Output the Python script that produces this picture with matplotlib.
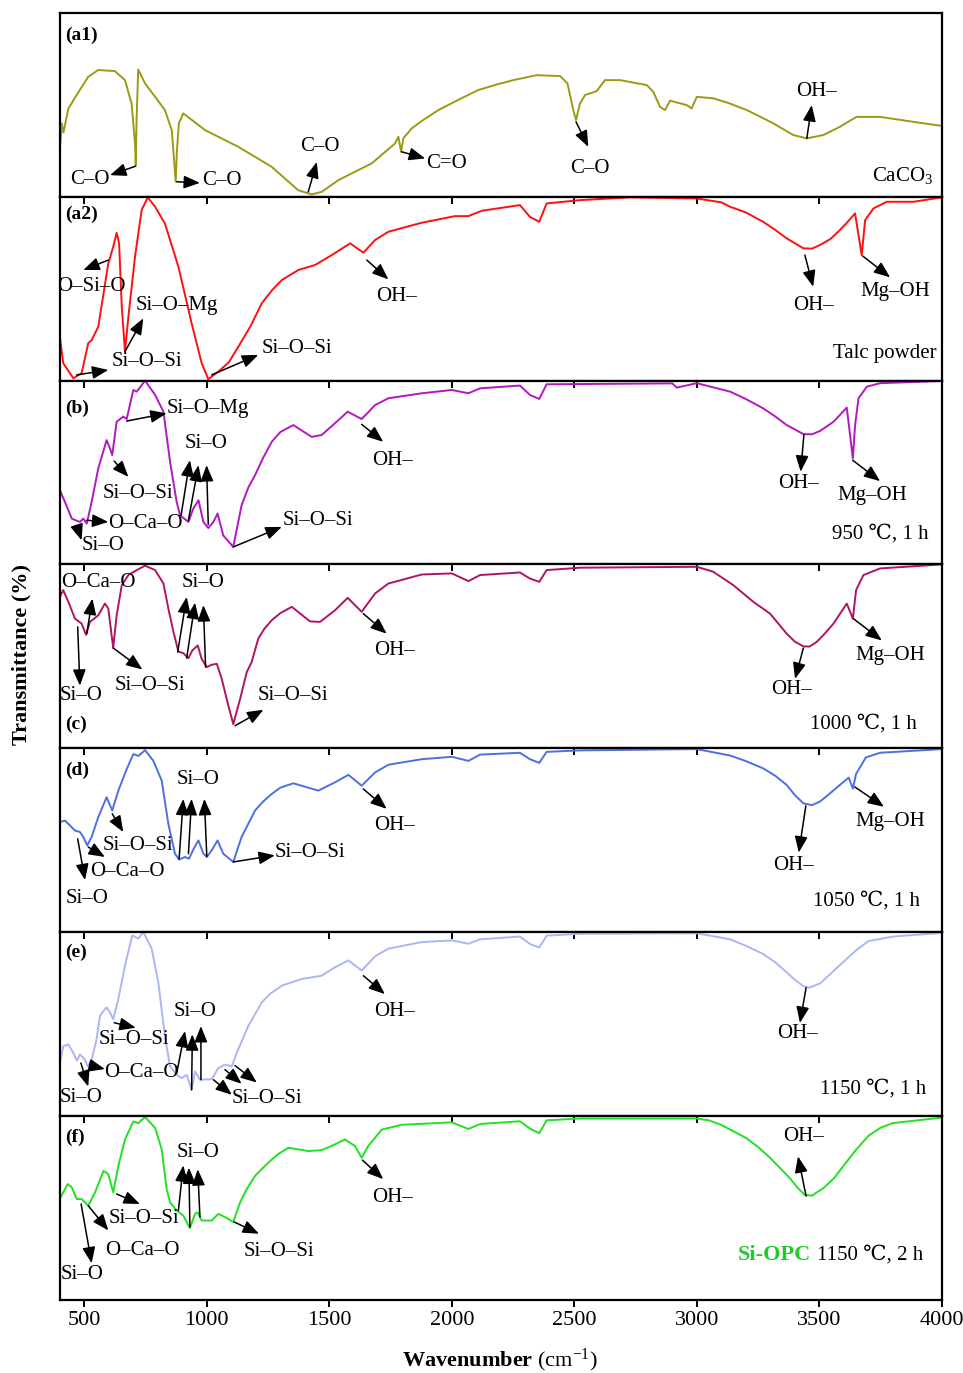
import matplotlib
matplotlib.use("Agg")
import matplotlib.pyplot as plt

plt.rcParams["font.family"] = ["Liberation Serif", "DejaVu Serif", "DejaVu Sans"]
plt.rcParams["mathtext.fontset"] = "custom"
plt.rcParams["mathtext.rm"] = "Liberation Serif"
plt.rcParams["mathtext.bf"] = "Liberation Serif:bold"
plt.rcParams["mathtext.it"] = "Liberation Serif:italic"

# ── Spectra (wavenumber cm-1, transmittance in panel units 0-100) ─────────────
wn_a1 = [400, 408, 415, 435, 462, 516, 557, 625, 666, 693, 707, 710, 713, 720, 748, 789, 829, 857, 873, 878,
         886, 904, 993, 1129, 1265, 1373, 1428, 1469, 1537, 1673, 1768, 1782, 1793, 1802, 1836, 1880, 1945, 2030,
         2108, 2180, 2251, 2347, 2442, 2472, 2496, 2507, 2523, 2544, 2591, 2625, 2687, 2796, 2822, 2850, 2870,
         2891, 2959, 2979, 3000, 3067, 3130, 3204, 3260, 3312, 3394, 3449, 3516, 3584, 3620, 3652, 3748, 3884, 4000]
tr_a1 = [25.4, 40, 35, 48, 54, 65.3, 69, 68.4, 63.5, 50.8, 29, 17.3, 40, 69.3, 61.7, 54.4, 47.2, 36.3, 8.2, 25,
         40, 45.4, 36.3, 27.2, 16.3, 3.6, 1.3, 2.7, 9.1, 18.2, 29, 32.7, 24.5, 31.8, 37.2, 41.5, 47.2, 53,
         58.1, 61, 63.5, 66.2, 65.7, 61.7, 47.2, 41.8, 50.8, 55.4, 57.5, 63.5, 63.5, 60.8, 57.2, 49, 47.2,
         52.3, 49.9, 48.1, 54.4, 53.6, 51, 47.2, 43.5, 40, 33.6, 31.8, 33.6, 38.1, 41, 43.5, 43.5, 40.8, 38.6]

wn_a2 = [400, 414, 455, 489, 516, 530, 557, 598, 618, 632, 642, 653, 666, 680, 707, 734, 759, 789, 829, 884,
         938, 979, 1006, 1047, 1090, 1129, 1180, 1224, 1265, 1306, 1374, 1442, 1510, 1585, 1639, 1687, 1741, 1877,
         2013, 2068, 2122, 2278, 2319, 2357, 2387, 2523, 2727, 3000, 3100, 3136, 3200, 3271, 3320, 3367, 3435,
         3470, 3503, 3545, 3584, 3620, 3646, 3673, 3687, 3721, 3775, 3884, 4000]
tr_a2 = [23.9, 9.5, 1.3, 4, 20.3, 22, 29.3, 63.8, 72.8, 80.4, 74.7, 40.2, 15.8, 34.8, 67.4, 92.8, 99.7, 94.6,
         85.5, 62, 31.2, 9.5, 0.8, 4.9, 10, 18.5, 30, 42, 49, 54.7, 60.2, 62.9, 68.3, 74.7, 69.6, 76.5, 81,
         85.9, 89.5, 89.5, 92.4, 95.5, 89.1, 86.4, 96.4, 98.2, 99.7, 99.1, 97, 94.6, 91.5, 86.4, 82, 77.4, 72,
         71.8, 73.8, 77, 81.9, 87, 91, 68.3, 87.3, 93.7, 97.3, 97.3, 99.7]

wn_b = [400, 421, 449, 482, 496, 510, 530, 557, 591, 605, 614, 632, 659, 673, 700, 714, 748, 789, 823, 850,
        877, 891, 925, 945, 966, 986, 1006, 1027, 1044, 1067, 1108, 1142, 1170, 1197, 1230, 1265, 1300, 1353,
        1428, 1469, 1523, 1575, 1632, 1687, 1741, 1877, 2000, 2068, 2115, 2278, 2319, 2357, 2387, 2900, 2918,
        3000, 3136, 3200, 3271, 3320, 3367, 3435, 3470, 3503, 3558, 3612, 3637, 3646, 3660, 3694, 3748, 4000]
tr_b = [40.4, 34, 24.9, 23.1, 24.9, 22.2, 34, 52.2, 67.6, 63.1, 59.5, 77.6, 80.4, 79.1, 94.9, 94, 100, 92.2,
        83.1, 55.8, 34, 26.7, 23.1, 30.4, 34.9, 23.1, 19.8, 23.1, 27.7, 15.8, 9.5, 32.2, 42, 48.6, 58, 66.7,
        72, 75.8, 69.4, 70.4, 76.8, 83.1, 79.1, 86.7, 90.4, 93.1, 94.9, 93.1, 95.8, 97.3, 92.2, 90, 98, 98.5,
        96.2, 98.6, 94, 90, 84.9, 80.5, 75.8, 70.9, 70.8, 72.6, 77.6, 85.3, 57.7, 75.8, 90.4, 96.7, 98.6, 99.8]

wn_c = [400, 414, 435, 462, 489, 507, 523, 557, 584, 598, 618, 632, 653, 680, 714, 748, 789, 823, 843, 864,
        884, 904, 925, 941, 963, 979, 1000, 1020, 1041, 1061, 1088, 1108, 1136, 1163, 1183, 1210, 1235, 1265,
        1300, 1347, 1421, 1462, 1523, 1575, 1632, 1687, 1741, 1877, 2000, 2068, 2115, 2278, 2319, 2357, 2387,
        2523, 3000, 3067, 3149, 3231, 3299, 3367, 3400, 3435, 3460, 3489, 3520, 3558, 3612, 3637, 3650, 3680,
        3748, 4000]
tr_c = [82.3, 86, 79.6, 70.5, 67.8, 61.7, 68.7, 72.3, 78.7, 76, 54.5, 72.3, 88.7, 94.2, 96.9, 99.3, 96.9,
        89.6, 76, 63.2, 52.6, 51.7, 49, 53.2, 55.9, 48.6, 44.1, 45.4, 45.9, 37.7, 23.1, 13.1, 26.8, 41.4, 46.8,
        59.6, 65, 69.6, 73.5, 76.9, 69, 68.7, 75, 81.8, 74.2, 84.2, 89.6, 94.5, 95.1, 90.9, 94.2, 95.6, 92.3,
        90.5, 96.9, 98.2, 98.7, 96, 88.7, 79.6, 73.2, 62.3, 58, 55.4, 55.3, 57.8, 62, 67.8, 78.7, 70.5, 86,
        94.2, 97.8, 100]

wn_d = [400, 421, 462, 482, 496, 512, 530, 557, 591, 614, 639, 673, 700, 721, 748, 782, 816, 843, 870, 887,
        911, 927, 949, 966, 986, 1000, 1020, 1044, 1067, 1108, 1142, 1197, 1230, 1265, 1300, 1353, 1455, 1523,
        1578, 1632, 1687, 1741, 1877, 2000, 2068, 2115, 2278, 2319, 2357, 2387, 2523, 3000, 3136, 3200, 3271,
        3320, 3367, 3400, 3435, 3470, 3503, 3540, 3584, 3620, 3637, 3650, 3690, 3748, 4000]
tr_d = [59.8, 60.6, 55.2, 54.4, 51.7, 47.1, 51.7, 62.5, 73.3, 66.1, 76.9, 88.6, 96.8, 95.8, 98.9, 93.1, 82.3,
        58.9, 42.6, 39.4, 40.8, 39.9, 45.9, 49.8, 42.6, 40.8, 44.4, 49.8, 42.6, 38.1, 51.7, 66.1, 71, 75.1,
        78.5, 80.9, 76.9, 81.4, 85.5, 79.6, 86.8, 91, 94, 95.3, 93.1, 96.5, 97.5, 94, 92, 98, 98.8, 99.5, 96,
        93, 89, 85, 80, 74.5, 70, 69, 71, 75, 80, 84, 78, 86, 95, 97.5, 99.5]

wn_e = [400, 414, 435, 455, 470, 482, 500, 514, 530, 550, 564, 578, 591, 605, 618, 639, 666, 696, 720, 741,
        775, 802, 829, 850, 877, 897, 918, 938, 952, 972, 1020, 1047, 1074, 1102, 1122, 1169, 1224, 1260, 1306,
        1387, 1469, 1523, 1578, 1632, 1687, 1741, 1877, 2000, 2068, 2115, 2278, 2319, 2357, 2387, 2523, 3000,
        3136, 3200, 3271, 3320, 3367, 3400, 3435, 3460, 3503, 3540, 3584, 3650, 3700, 3800, 4000]
tr_e = [28.7, 37.8, 38.8, 34.2, 30, 33.3, 31, 26.9, 30.6, 41.5, 54.3, 57, 58.9, 56.1, 52.5, 63.5, 81.7, 98.2,
        96.4, 100, 90.9, 72.6, 43.3, 26.9, 22.3, 20.5, 22.3, 14.1, 24.1, 19.6, 19.9, 25.9, 27.8, 26.9, 34.2,
        48.8, 61.6, 66.5, 70.8, 74.4, 76.2, 80.8, 84.5, 79, 86.8, 90.9, 94.5, 95.4, 93.6, 96, 97.5, 93.5, 91.5,
        98, 99, 99.3, 96, 92.5, 88, 83.5, 78, 74, 70.5, 69.7, 72, 76.5, 82, 90, 95, 97.5, 99.5]

wn_f = [400, 432, 449, 469, 489, 516, 544, 578, 598, 618, 639, 666, 700, 720, 748, 789, 816, 836, 850, 877,
        904, 931, 952, 963, 979, 1020, 1047, 1074, 1108, 1136, 1163, 1197, 1251, 1290, 1333, 1414, 1469, 1523,
        1564, 1605, 1632, 1659, 1714, 1796, 2000, 2068, 2115, 2278, 2319, 2357, 2387, 2523, 3000, 3050, 3100,
        3200, 3250, 3300, 3380, 3410, 3440, 3470, 3520, 3560, 3600, 3650, 3700, 3750, 3800, 4000]
tr_f = [54.7, 62.8, 61, 54.7, 54.7, 51.1, 58.3, 70, 68.2, 58.3, 72.7, 87.1, 96.9, 96, 99.3, 93.4, 81.7, 60.1,
        52.9, 48.4, 45.7, 38.9, 46.6, 47.5, 43, 43, 46.6, 44.9, 42.2, 52.9, 60.1, 67.3, 74.5, 79, 82.6, 80.8,
        81.3, 84.4, 87.1, 83.5, 77.2, 83.5, 92.5, 95.1, 96.4, 92.8, 95.5, 97, 93, 90.5, 97.5, 98.5, 98.5, 97.5,
        95, 88, 83, 77, 66, 61, 57, 56.5, 61, 66, 73, 81.5, 89, 93.5, 96, 99]

panel_tags = ["(a1)", "(a2)", "(b)", "(c)", "(d)", "(e)", "(f)"]
sample_names = ["CaCO$_3$", "Talc powder", "950 ℃, 1 h", "1000 ℃, 1 h", "1050 ℃, 1 h", "1150 ℃, 1 h", "1150 ℃, 2 h"]
colors = ["#9c9a14", "#ff1010", "#b318c0", "#b01464", "#4d6fe3", "#abb6f2", "#22e022"]
spectra = [(wn_a1, tr_a1), (wn_a2, tr_a2), (wn_b, tr_b), (wn_c, tr_c), (wn_d, tr_d), (wn_e, tr_e), (wn_f, tr_f)]
xticks = [500, 1000, 1500, 2000, 2500, 3000, 3500, 4000]

# ── Peak assignments: texts (label, x, y) and arrows (x_tail, y_tail, x_head, y_head) ─
texts = [
    [("C–O", 523, 9.5), ("C–O", 1061, 9.1), ("C–O", 1462, 27.2), ("C=O", 1979, 18.2),
     ("C–O", 2564, 15.5), ("OH–", 3489, 57.2)],
    [("O–Si–O", 530, 51.1), ("Si–O–Mg", 877, 41.1), ("Si–O–Si", 755, 10.3), ("Si–O–Si", 1367, 17.6),
     ("OH–", 1775, 46), ("OH–", 3475, 41.1), ("Mg–OH", 3809, 48.4)],
    [("Si–O–Mg", 1006, 85), ("Si–O–Si", 720, 38.6), ("Si–O", 578, 10.4), ("O–Ca–O", 751, 22.2),
     ("Si–O", 999, 65.8), ("Si–O–Si", 1455, 24), ("OH–", 1757, 56.7), ("OH–", 3414, 44), ("Mg–OH", 3718, 37.6)],
    [("O–Ca–O", 557, 90.2), ("Si–O", 487, 28.6), ("Si–O–Si", 768, 34), ("Si–O", 986, 90.2),
     ("Si–O–Si", 1353, 28.6), ("OH–", 1765, 53.2), ("OH–", 3387, 32.2), ("Mg–OH", 3789, 50.4)],
    [("Si–O", 510, 18.2), ("O–Ca–O", 677, 33), ("Si–O–Si", 718, 47.1), ("Si–O", 963, 83.2),
     ("Si–O–Si", 1421, 43.5), ("OH–", 1765, 57.9), ("OH–", 3393, 36.2), ("Mg–OH", 3789, 59.9)],
    [("Si–O", 486, 10), ("O–Ca–O", 731, 23.6), ("Si–O–Si", 704, 41.5), ("Si–O", 952, 57),
     ("Si–O–Si", 1244, 9.5), ("OH–", 1765, 57), ("OH–", 3413, 45)],
    [("Si–O", 492, 13.4), ("O–Ca–O", 737, 26.8), ("Si–O–Si", 745, 43.9), ("Si–O", 965, 80.2),
     ("Si–O–Si", 1295, 26), ("OH–", 1757, 55.6), ("OH–", 3434, 88.7)],
]
arrows = [
    [(710, 16.7, 605, 11.8), (877, 8.2, 972, 7.6), (1414, 2.7, 1449, 19), (1795, 24.5, 1891, 20.9),
     (2507, 40.8, 2557, 27.2), (3449, 31.8, 3469, 49.9)],
    [(598, 65.6, 496, 60.2), (666, 15.8, 741, 33.9), (469, 3.1, 598, 5.8), (1020, 3.1, 1210, 14),
     (1653, 65.6, 1741, 55.1), (3441, 68.3, 3475, 51.1), (3677, 67.8, 3789, 56.2)],
    [(673, 78, 836, 82.2), (622, 56.2, 680, 47.6), (469, 21.3, 489, 13.1), (510, 24, 598, 23.1),
     (895, 26.7, 931, 56.7), (925, 24, 966, 54), (1006, 21.7, 999, 54), (1108, 9.5, 1306, 20.4),
     (1632, 76.2, 1720, 66.7), (3437, 70.4, 3424, 50.4), (3636, 56.7, 3748, 45.3)],
    [(510, 62.3, 533, 81.4), (473, 66, 482, 34), (618, 54.5, 737, 42.8), (881, 52.3, 918, 82.3),
     (918, 49, 952, 79.2), (995, 44.1, 986, 77.8), (1115, 12.2, 1231, 20.9), (1639, 73.2, 1734, 62.3),
     (3435, 54.5, 3401, 37.7), (3639, 70.5, 3755, 58.6)],
    [(473, 50.7, 503, 28.2), (516, 46.2, 584, 40.8), (614, 64.3, 659, 54.4), (887, 39.9, 904, 72.4),
     (925, 42.6, 938, 72.4), (1000, 41.1, 990, 72.4), (1108, 38.1, 1278, 41.7), (1639, 77.8, 1734, 67),
     (3445, 68.6, 3416, 43.2), (3645, 78.9, 3764, 68.1)],
    [(486, 28.7, 516, 15.9), (537, 26.9, 584, 25.4), (622, 50.6, 710, 47.9), (877, 23.2, 911, 46.1),
     (938, 14.1, 941, 44.3), (976, 19.6, 976, 48.8), (1027, 19.6, 1102, 11.4), (1074, 25.1, 1142, 17.4),
     (1115, 27.3, 1204, 18.1), (1639, 76.2, 1727, 66.2), (3446, 69.7, 3421, 50.5)],
    [(487, 52, 530, 19.7), (516, 51.1, 598, 37.6), (632, 57.4, 727, 52), (884, 48.4, 904, 73),
     (931, 39.5, 927, 71.8), (972, 44.9, 963, 70.9), (1112, 42.2, 1213, 35.8), (1635, 75.9, 1720, 65.5),
     (3446, 56.3, 3413, 77.9)],
]
tag_y = [88, 90.6, 85, 13.1, 87.7, 89, 88]
name_pos = [(3964, 11.8), (3980, 14.9), (3948, 16.7), (3899, 13.1), (3911, 16.6), (3935, 14.3), (3923, 24)]

# ── Figure ───────────────────────────────────────────────────────────────────
fig = plt.figure(figsize=(9.63, 13.73), dpi=100)
axes = fig.subplots(7, 1, sharex=True, gridspec_kw=dict(hspace=0))
fig.subplots_adjust(left=0.0621, right=0.978, top=0.9905, bottom=0.0535)

arrow_kw = dict(arrowstyle="-|>,head_length=0.7,head_width=0.28", color="black",
                lw=1.1, shrinkA=0, shrinkB=0, mutation_scale=14)

for i, ax in enumerate(axes):
    wn, tr = spectra[i]
    ax.plot(wn, tr, color=colors[i], lw=1.4, solid_joinstyle="round")
    ax.set_xlim(400, 4000)
    ax.set_ylim(0, 100)
    ax.set_yticks([])
    for sp in ax.spines.values():
        sp.set_linewidth(1.6)
    ax.set_xticks(xticks)
    if i == 0:
        ax.tick_params(axis="x", bottom=False, top=False)
    else:
        ax.tick_params(axis="x", bottom=(i == 6), top=True, direction="in", length=5, width=1.4)
    if i == 6:
        ax.tick_params(axis="x", bottom=True, direction="out", labelsize=16, length=5, width=1.4)
        for t in ax.xaxis.get_major_ticks():
            t.tick2line.set_marker(3)

    for label, x, y in texts[i]:
        ax.text(x, y, label, fontsize=15, ha="center", va="center")
    for x0, y0, x1, y1 in arrows[i]:
        ax.annotate("", xy=(x1, y1), xytext=(x0, y0), arrowprops=arrow_kw)

    ax.text(421, tag_y[i], panel_tags[i], fontsize=14, fontweight="bold", ha="left", va="center")
    nx, ny = name_pos[i]
    ax.text(nx, ny, sample_names[i], fontsize=15, ha="right", va="center")

axes[6].text(3465, 24, "Si-OPC", fontsize=16, fontweight="bold", color="#22cc22", ha="right", va="center")

fig.text(0.022, 0.523, "Transmittance (%)", rotation=90, fontsize=16, fontweight="bold",
         ha="center", va="center")
fig.text(0.519, 0.0095, r"$\mathbf{Wavenumber}$ (cm$^{-1}$)", fontsize=16, ha="center", va="center")

plt.savefig("out.png", dpi=100)
plt.close()
